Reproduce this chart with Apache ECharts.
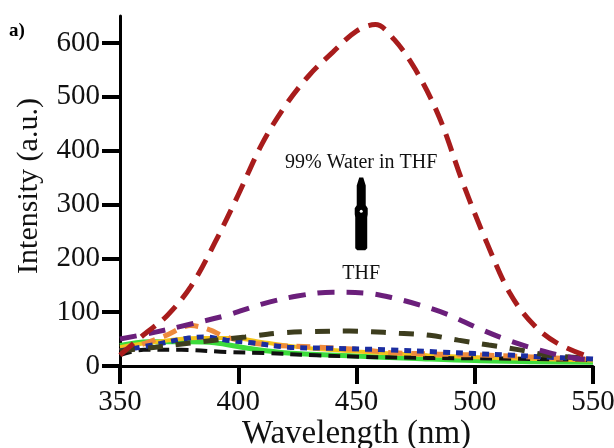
<!DOCTYPE html>
<html>
<head>
<meta charset="utf-8">
<script src="https://cdn.jsdelivr.net/npm/echarts@6/dist/echarts.min.js"></script>
<style>
  html, body { margin: 0; padding: 0; background: #fff; }
  #chart { width: 614px; height: 448px; }
</style>
</head>
<body>
<div id="chart"></div>
<script>
// emission spectra, wavelength (nm) vs intensity (a.u.)
var xTicks = [350, 400, 450, 500, 550];
var yTicks = [0, 100, 200, 300, 400, 500, 600];

var red = [[350,20],[360,58],[370,94],[380,148],[390,228],[400,318],[410,412],[420,484],[430,540],[440,583],[450,622],[458,634],[466,606],[475,550],[485,462],[495,340],[505,230],[515,134],[525,76],[535,42],[550,14]];
var purple = [[350,50],[365,63],[380,78],[395,94],[410,115],[425,130],[440,137],[455,135],[465,127],[477,113],[489,95],[501,71],[514,48],[527,30],[539,17],[550,11]];
var olive = [[350,28],[365,35],[380,43],[390,48],[403,54],[417,61],[431,64],[447,65],[455,64],[468,61],[481,57],[493,48],[506,39],[519,30],[531,20],[550,14]];
var orange = [[350,28],[358,38],[369,56],[380,75],[388,67],[394,55],[404,44],[414,39],[433,35],[453,30],[464,25],[485,22],[506,20],[534,15],[550,12]];
var blue = [[350,28],[365,40],[379,52],[386,54],[395,48],[406,43],[421,35],[438,33],[464,30],[485,26],[500,23],[516,20],[528,17],[550,13]];
var yellow = [[350,35],[362,43],[383,52],[397,52],[412,43],[430,33],[450,27],[480,20],[510,15],[550,10]];
var green = [[350,38],[362,45],[379,45],[390,43],[404,33],[421,24],[447,19],[475,14],[500,10],[525,8],[550,7]];
var black = [[350,20],[360,30],[376,30],[395,26],[411,24],[433,20],[453,17],[480,15],[510,14],[550,11]];

var topLabel = '99% Water in THF';
var bottomLabel = 'THF';
var topLabelAt = [452, 378];
var bottomLabelAt = [452, 172];
var arrowFrom = [452, 215];
var arrowTo = [452, 350];

var serif = "'Liberation Serif', 'Times New Roman', serif";

function line(data, color, width, dash) {
    return {
        type: 'line',
        data: data,
        smooth: 0.35,
        showSymbol: false,
        symbol: 'none',
        lineStyle: { color: color, width: width, type: dash, cap: 'butt' }
    };
}

var chart = echarts.init(document.getElementById('chart'));

chart.setOption({
    animation: false,
    backgroundColor: '#fff',
    grid: { left: 120, right: 21, top: 16, bottom: 82, outerBoundsMode: 'none', containLabel: false },
    xAxis: {
        type: 'value',
        min: 350, max: 550, interval: 50,
        name: 'Wavelength (nm)',
        nameLocation: 'middle',
        nameGap: 52,
        nameMoveOverlap: false,
        nameTextStyle: { fontFamily: serif, fontSize: 33, color: '#111' },
        axisLine: { lineStyle: { color: '#000', width: 3 } },
        axisTick: { length: 18, lineStyle: { color: '#000', width: 4 } },
        axisLabel: { margin: 22, fontFamily: serif, fontSize: 29, color: '#111' },
        splitLine: { show: false }
    },
    yAxis: {
        type: 'value',
        min: 0, max: 650, interval: 100,
        name: 'Intensity (a.u.)',
        nameLocation: 'middle',
        nameGap: 76,
        nameMoveOverlap: false,
        nameTextStyle: { fontFamily: serif, fontSize: 30, color: '#111', padding: [0, 0, 0, 10] },
        axisLine: { lineStyle: { color: '#000', width: 3 } },
        axisTick: { length: 18, customValues: yTicks, lineStyle: { color: '#000', width: 4 } },
        axisLabel: { margin: 20, customValues: yTicks, fontFamily: serif, fontSize: 29, color: '#111' },
        splitLine: { show: false }
    },
    series: [
        line(green, '#3cdc3c', 5, 'solid'),
        line(yellow, '#f2c31b', 4, 'solid'),
        line(black, '#111111', 4, [12, 7]),
        line(orange, '#ee8a3c', 5, [14, 9]),
        line(blue, '#1b2da0', 5, [7, 6]),
        line(olive, '#3d3d1e', 5, [15, 13]),
        line(purple, '#6b1f7b', 5, [17, 12]),
        line(red, '#a81c1c', 5, [18, 10])
    ]
});

// annotations placed from data coordinates
function px(p) {
    return chart.convertToPixel({ gridIndex: 0 }, p);
}
var t1 = px(topLabelAt), t2 = px(bottomLabelAt);
var a0 = px(arrowFrom), a1 = px(arrowTo);
var cx = a0[0], by = a0[1], ty = a1[1], my = by - (by - ty) * 0.55;

chart.setOption({
    graphic: [
        {
            type: 'text', left: 9, top: 22,
            style: { text: 'a)', font: 'bold 19px ' + serif, fill: '#000' }
        },
        {
            type: 'text', x: t1[0], y: t1[1],
            style: { text: topLabel, font: '20px ' + serif, fill: '#111', align: 'center', verticalAlign: 'middle' }
        },
        {
            type: 'text', x: t2[0], y: t2[1],
            style: { text: bottomLabel, font: '20px ' + serif, fill: '#111', align: 'center', verticalAlign: 'middle' }
        },
        {
            type: 'polygon',
            shape: {
                points: [
                    [cx - 2, ty], [cx + 2, ty], [cx + 4.5, ty + 8], [cx + 4.5, my - 5], [cx + 6.5, my - 2],
                    [cx + 6.5, my + 4], [cx + 6, my + 7], [cx + 6, by - 2], [cx + 4, by],
                    [cx - 4, by], [cx - 6, by - 2], [cx - 6, my + 7], [cx - 6.5, my + 4],
                    [cx - 6.5, my - 2], [cx - 4.5, my - 5], [cx - 4.5, ty + 8]
                ]
            },
            style: { fill: '#000' }
        },
        {
            type: 'circle',
            shape: { cx: cx, cy: my + 1, r: 1.5 },
            style: { fill: '#fff' }
        }
    ]
});
</script>
</body>
</html>
